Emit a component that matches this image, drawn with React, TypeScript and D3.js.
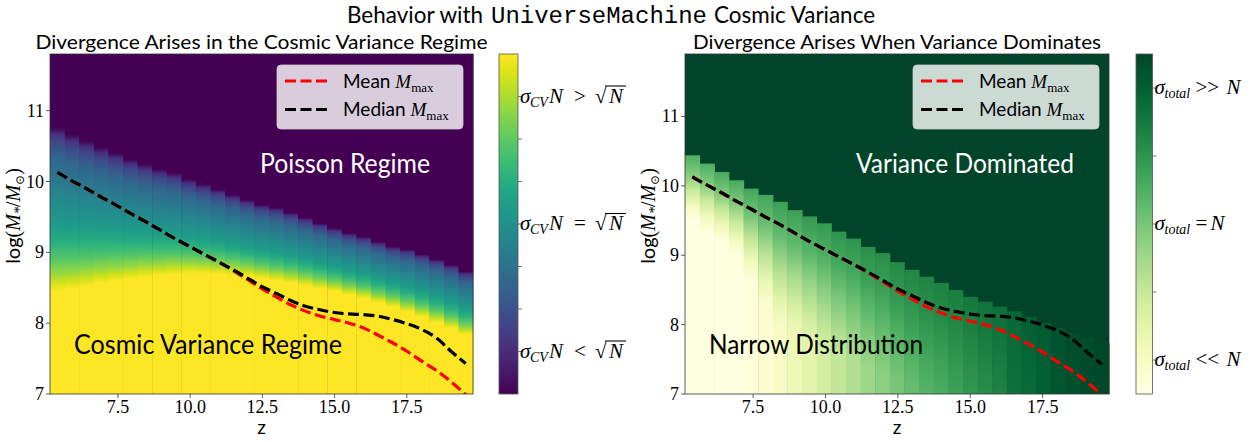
import * as d3 from 'd3'

// redshift column centres (29 bins)
const zCols = [5.4, 5.91, 6.41, 6.92, 7.42, 7.93, 8.43, 8.94, 9.44, 9.95, 10.45, 10.96, 11.46, 11.97,
  12.47, 12.98, 13.48, 13.99, 14.49, 15.0, 15.5, 16.01, 16.51, 17.02, 17.52, 18.03, 18.53, 19.04, 19.54]

// left panel: log M where the Poisson (purple) part starts / where the CV (yellow) part ends
const cvTop = [10.76, 10.66, 10.57, 10.48, 10.4, 10.31, 10.24, 10.17, 10.12, 10.03, 9.96, 9.89, 9.81, 9.74,
  9.67, 9.63, 9.56, 9.49, 9.41, 9.34, 9.27, 9.22, 9.15, 9.08, 9.04, 8.97, 8.9, 8.82, 8.73]
const cvBottom = [8.45, 8.48, 8.52, 8.56, 8.59, 8.62, 8.65, 8.67, 8.69, 8.7, 8.7, 8.69, 8.68, 8.66,
  8.63, 8.6, 8.57, 8.53, 8.49, 8.45, 8.4, 8.35, 8.29, 8.23, 8.16, 8.09, 8.01, 7.93, 7.84]
// colour profile inside the transition (fraction from top -> colormap value)
const cvProfileU = [0, 0.04, 0.09, 0.19, 0.4, 0.6, 0.7, 0.8, 0.89, 0.95, 1]
const cvProfileT = [0, 0.14, 0.22, 0.33, 0.45, 0.55, 0.63, 0.73, 0.84, 0.93, 1]

// right panel: edge of the dark region, colour just below it, colour at the bottom, end of fade
const totTop = [10.44, 10.32, 10.2, 10.08, 9.96, 9.87, 9.77, 9.65, 9.56, 9.46, 9.34, 9.24, 9.12, 9.03,
  8.9, 8.79, 8.69, 8.6, 8.5, 8.4, 8.33, 8.26, 8.19, 8.11, 8.02, 7.95, 7.88, 7.81, 7.73]
const totTopT = [0.6, 0.6, 0.62, 0.62, 0.64, 0.64, 0.66, 0.66, 0.68, 0.68, 0.7, 0.7, 0.72, 0.72,
  0.74, 0.75, 0.76, 0.77, 0.78, 0.8, 0.82, 0.84, 0.87, 0.9, 0.92, 0.95, 0.97, 0.98, 0.99]
const totBottomT = [0.01, 0.01, 0.02, 0.02, 0.03, 0.06, 0.1, 0.15, 0.2, 0.26, 0.31, 0.36, 0.41, 0.45,
  0.5, 0.54, 0.58, 0.61, 0.65, 0.69, 0.72, 0.76, 0.83, 0.86, 0.9, 0.94, 0.96, 0.98, 0.99]
const totFadeEnd = [9.51, 9.33, 9.2, 9.0, 8.65, 8.3, 8.0, 7.9, 7.8, 7.7, 7.6, 7.5, 7.4, 7.3,
  7.2, 7.1, 7, 7, 7, 7, 7, 7, 7, 7, 7, 7, 7, 7, 7]
const fadeU = [0, 0.28, 0.54, 0.8, 1]
const fadeF = [1, 0.8, 0.48, 0.18, 0]

// M_max curves at the column centres
const medianMmax = [10.13, 10.01, 9.9, 9.78, 9.67, 9.55, 9.44, 9.32, 9.2, 9.09, 8.98, 8.87, 8.76, 8.64,
  8.52, 8.42, 8.32, 8.24, 8.19, 8.15, 8.13, 8.12, 8.1, 8.05, 7.99, 7.91, 7.79, 7.6, 7.43]
const meanMmax = [10.13, 10.01, 9.9, 9.78, 9.67, 9.55, 9.44, 9.32, 9.2, 9.09, 8.98, 8.87, 8.75, 8.62,
  8.49, 8.37, 8.26, 8.17, 8.1, 8.05, 8.0, 7.93, 7.83, 7.72, 7.6, 7.46, 7.33, 7.17, 6.99]

const xTicks = [7.5, 10, 12.5, 15, 17.5]
const yTicks = [7, 8, 9, 10, 11]
const cvTicks = [1, 2, 3, 4, 5, 6, 7]
const cvLabels: [number, string][] = [[1, '<'], [4, '='], [7, '>']]
const totTicks = [0.5, 1.5, 2.5, 3.5, 4.5]
const totLabels: [number, string][] = [[0.5, '<<'], [2.5, '='], [4.5, '>>']]

const SANS = "Lato, 'Open Sans', sans-serif"
const SERIF = "'Liberation Serif', 'DejaVu Serif', serif"
const MONO = "'Liberation Mono', 'DejaVu Sans Mono', monospace"

const colW = (zCols[zCols.length - 1] - zCols[0]) / (zCols.length - 1)
const zDomain = [zCols[0] - colW / 2, zCols[zCols.length - 1] + colW / 2]

const TOP = 54
const BOTTOM = 394

function Mlabel({ x, y }: { x: number, y: number }) {
  return (
    <text transform={`translate(${x},${y}) rotate(-90)`} textAnchor="middle" fontSize={20} fill="#000">
      <tspan fontFamily={SANS}>log</tspan>
      <tspan fontFamily={SERIF}>(</tspan>
      <tspan fontFamily={SERIF} fontStyle="italic">M</tspan>
      <tspan fontFamily={SERIF} fontStyle="italic" fontSize={14} dy={4}>*</tspan>
      <tspan fontFamily={SERIF} dy={-4}>/</tspan>
      <tspan fontFamily={SERIF} fontStyle="italic">M</tspan>
      <tspan fontFamily="'DejaVu Serif', serif" fontSize={12} dy={4}>⊙</tspan>
      <tspan fontFamily={SERIF} dy={-4}>)</tspan>
    </text>
  )
}

function Legend({ x, y, w }: { x: number, y: number, w: number }) {
  const rows = [['Mean', '#ff0000'], ['Median', '#000000']]
  return (
    <g>
      <rect x={x} y={y} width={w} height={64} rx={4} fill="#fff" fillOpacity={0.8} stroke="#ccc" strokeOpacity={0.8} />
      {rows.map(([name, col], i) => (
        <g key={name}>
          <line x1={x + 8} x2={x + 51} y1={y + 16 + i * 28.5} y2={y + 16 + i * 28.5}
            stroke={col} strokeWidth={3.2} strokeDasharray="11 4.5" />
          <text x={x + 66} y={y + 22.5 + i * 28.5} fontSize={19} fill="#000">
            <tspan fontFamily={SANS}>{name} </tspan>
            <tspan fontFamily={SERIF} fontStyle="italic">M</tspan>
            <tspan fontFamily={SERIF} fontSize={13} dy={4}>max</tspan>
          </text>
        </g>
      ))}
    </g>
  )
}

function Axes({ left, right, y }: { left: number, right: number, y: d3.ScaleLinear<number, number> }) {
  const x = d3.scaleLinear().domain(zDomain).range([left, right])
  return (
    <g>
      <rect x={left} y={TOP} width={right - left} height={BOTTOM - TOP} fill="none" stroke="#333" strokeWidth={0.8} />
      {xTicks.map(t => (
        <g key={t}>
          <line x1={x(t)} x2={x(t)} y1={BOTTOM} y2={BOTTOM + 4} stroke="#333" strokeWidth={0.8} />
          <text x={x(t)} y={BOTTOM + 19} textAnchor="middle" fontFamily={SERIF} fontSize={18}>{t.toFixed(1)}</text>
        </g>
      ))}
      {yTicks.map(t => (
        <g key={t}>
          <line x1={left - 4} x2={left} y1={y(t)} y2={y(t)} stroke="#333" strokeWidth={0.8} />
          <text x={left - 6} y={y(t) + 6} textAnchor="end" fontFamily={SERIF} fontSize={18}>{t}</text>
        </g>
      ))}
      <text x={(left + right) / 2} y={434} textAnchor="middle" fontFamily={SANS} fontSize={19}>z</text>
    </g>
  )
}

function CurveLines({ x, y, clip }: { x: d3.ScaleLinear<number, number>, y: d3.ScaleLinear<number, number>, clip: string }) {
  const line = d3.line<number>().x((_, i) => x(zCols[i])).y(d => y(d)).curve(d3.curveMonotoneX)
  return (
    <g clipPath={`url(#${clip})`}>
      <path d={line(meanMmax) ?? ''} fill="none" stroke="#ff0000" strokeWidth={3.2} strokeDasharray="11 4.5" />
      <path d={line(medianMmax) ?? ''} fill="none" stroke="#000" strokeWidth={3.2} strokeDasharray="11 4.5" />
    </g>
  )
}

function LeftPanel() {
  const left = 50, right = 473
  const x = d3.scaleLinear().domain(zDomain).range([left, right])
  const y = d3.scaleLinear().domain([7, 11.8]).range([BOTTOM, TOP])
  return (
    <g>
      <defs>
        <clipPath id="clipL"><rect x={left} y={TOP} width={right - left} height={BOTTOM - TOP} /></clipPath>
        {zCols.map((z, i) => (
          <linearGradient key={i} id={`cv${i}`} gradientUnits="userSpaceOnUse" x1={0} x2={0} y1={y(cvTop[i])} y2={y(cvBottom[i])}>
            {cvProfileU.map((u, k) => <stop key={k} offset={u} stopColor={d3.interpolateViridis(cvProfileT[k])} />)}
          </linearGradient>
        ))}
      </defs>
      <rect x={left} y={TOP} width={right - left} height={BOTTOM - TOP} fill={d3.interpolateViridis(0)} />
      {zCols.map((z, i) => (
        <rect key={i} x={x(z - colW / 2)} y={TOP} width={x(z + colW / 2) - x(z - colW / 2) + 0.5}
          height={BOTTOM - TOP} fill={`url(#cv${i})`} />
      ))}
      <CurveLines x={x} y={y} clip="clipL" />
      <Legend x={277} y={65} w={186} />
      <text x={260} y={173} fontFamily={SANS} fontSize={26} fill="#fff" textLength={170} lengthAdjust="spacingAndGlyphs">Poisson Regime</text>
      <text x={74} y={354} fontFamily={SANS} fontSize={26} fill="#000" textLength={268} lengthAdjust="spacingAndGlyphs">Cosmic Variance Regime</text>
      <Axes left={left} right={right} y={y} />
      <Mlabel x={20} y={216} />
      <text x={(left + right) / 2} y={49} textAnchor="middle" fontFamily={SANS} fontSize={20}
        textLength={452} lengthAdjust="spacingAndGlyphs">Divergence Arises in the Cosmic Variance Regime</text>
    </g>
  )
}

function RightPanel() {
  const left = 685, right = 1109
  const x = d3.scaleLinear().domain(zDomain).range([left, right])
  const y = d3.scaleLinear().domain([7, 11.9]).range([BOTTOM, TOP])
  return (
    <g>
      <defs>
        <clipPath id="clipR"><rect x={left} y={TOP} width={right - left} height={BOTTOM - TOP} /></clipPath>
        {zCols.map((z, i) => (
          <linearGradient key={i} id={`tot${i}`} gradientUnits="userSpaceOnUse" x1={0} x2={0}
            y1={y(totTop[i])} y2={Math.max(y(totFadeEnd[i]), y(totTop[i]) + 1)}>
            {fadeU.map((u, k) => (
              <stop key={k} offset={u}
                stopColor={d3.interpolateYlGn(totBottomT[i] + (totTopT[i] - totBottomT[i]) * fadeF[k])} />
            ))}
          </linearGradient>
        ))}
      </defs>
      <rect x={left} y={TOP} width={right - left} height={BOTTOM - TOP} fill={d3.interpolateYlGn(1)} />
      {zCols.map((z, i) => (
        <rect key={i} x={x(z - colW / 2)} y={y(totTop[i])} width={x(z + colW / 2) - x(z - colW / 2) + 0.5}
          height={BOTTOM - y(totTop[i])} fill={`url(#tot${i})`} />
      ))}
      <CurveLines x={x} y={y} clip="clipR" />
      <Legend x={913} y={65} w={186} />
      <text x={856} y={173} fontFamily={SANS} fontSize={26} fill="#fff" textLength={218} lengthAdjust="spacingAndGlyphs">Variance Dominated</text>
      <text x={709} y={354} fontFamily={SANS} fontSize={26} fill="#000" textLength={214} lengthAdjust="spacingAndGlyphs">Narrow Distribution</text>
      <Axes left={left} right={right} y={y} />
      <Mlabel x={655} y={216} />
      <text x={(left + right) / 2} y={49} textAnchor="middle" fontFamily={SANS} fontSize={20}
        textLength={408} lengthAdjust="spacingAndGlyphs">Divergence Arises When Variance Dominates</text>
    </g>
  )
}

function CvLabel({ x, y, rel }: { x: number, y: number, rel: string }) {
  return (
    <g fontFamily={SERIF} fontSize={21} fill="#000">
      <text x={x} y={y} fontStyle="italic">σ</text>
      <text x={x + 10} y={y + 4} fontStyle="italic" fontSize={14}>CV</text>
      <text x={x + 29} y={y} fontStyle="italic">N</text>
      <text x={x + 60} y={y} textAnchor="middle">{rel}</text>
      <text x={x + 75} y={y}>√</text>
      <line x1={x + 85} x2={x + 106} y1={y - 16.5} y2={y - 16.5} stroke="#000" strokeWidth={1.1} />
      <text x={x + 89} y={y} fontStyle="italic">N</text>
    </g>
  )
}

function TotLabel({ x, y, rel }: { x: number, y: number, rel: string }) {
  const nx = rel === '=' ? 56 : 72
  return (
    <g fontFamily={SERIF} fontSize={21} fill="#000">
      <text x={x} y={y} fontStyle="italic">σ</text>
      <text x={x + 10} y={y + 4} fontStyle="italic" fontSize={14}>total</text>
      <text x={x + 41} y={y}>{rel}</text>
      <text x={x + nx} y={y} fontStyle="italic">N</text>
    </g>
  )
}

function Colorbar({ id, left, width, domainMax, interp, ticks, labels, kind }: {
  id: string, left: number, width: number, domainMax: number, interp: (t: number) => string,
  ticks: number[], labels: [number, string][], kind: 'cv' | 'tot'
}) {
  const s = d3.scaleLinear().domain([0, domainMax]).range([BOTTOM, TOP])
  const stops = d3.range(0, 1.0001, 0.05)
  return (
    <g>
      <defs>
        <linearGradient id={id} x1={0} x2={0} y1={1} y2={0}>
          {stops.map(t => <stop key={t} offset={t} stopColor={interp(t)} />)}
        </linearGradient>
      </defs>
      <rect x={left} y={TOP} width={width} height={BOTTOM - TOP} fill={`url(#${id})`} stroke="#555" strokeWidth={0.8} />
      {ticks.map(t => (
        <line key={t} x1={left + width} x2={left + width + 4} y1={s(t)} y2={s(t)} stroke="#555" strokeWidth={0.8} />
      ))}
      {labels.map(([t, rel]) => kind === 'cv'
        ? <CvLabel key={t} x={left + width + 2} y={s(t) + 6} rel={rel} />
        : <TotLabel key={t} x={left + width + 2} y={s(t) + 6} rel={rel} />)}
    </g>
  )
}

export default function App() {
  return (
    <svg width={1256} height={442} viewBox="0 0 1256 442"
      style={{ position: 'absolute', left: 0, top: 0, background: '#fff' }}>
      <rect width={1256} height={442} fill="#fff" />
      <g fontSize={24} fill="#000">
        <text x={347} y={23} fontFamily={SANS} textLength={136} lengthAdjust="spacingAndGlyphs">Behavior with</text>
        <text x={491} y={23} fontFamily={MONO} fontSize={23} textLength={216} lengthAdjust="spacingAndGlyphs">UniverseMachine</text>
        <text x={714} y={23} fontFamily={SANS} textLength={161} lengthAdjust="spacingAndGlyphs">Cosmic Variance</text>
      </g>
      <LeftPanel />
      <RightPanel />
      <Colorbar id="cbL" left={499} width={19} domainMax={8} interp={d3.interpolateViridis}
        ticks={cvTicks} labels={cvLabels} kind="cv" />
      <Colorbar id="cbR" left={1136} width={16.5} domainMax={5} interp={d3.interpolateYlGn}
        ticks={totTicks} labels={totLabels} kind="tot" />
    </svg>
  )
}
